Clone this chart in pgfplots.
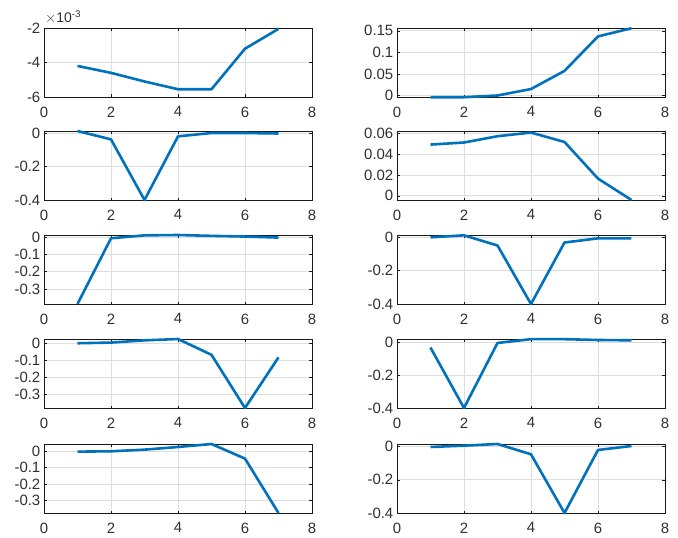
\documentclass[border=0pt]{standalone}
\usepackage{pgfplots}
\pgfplotsset{compat=1.18}
\usepackage{fontspec}
\setmainfont{Liberation Sans}
\definecolor{mblue}{HTML}{0072BD}
\definecolor{mgrid}{HTML}{DEDEDE}
\definecolor{mtext}{HTML}{303030}
\pgfplotsset{
  panel/.style={
    scale only axis, width=268bp, height=69bp,
    anchor=north west,
    xmin=0, xmax=8, xtick={0,2,4,6,8}, xticklabels={0,2,4,6,8},
    grid=major, major grid style={mgrid, line width=0.7bp},
    axis line style={black!90, line width=0.9bp},
    tick style={black!90, line width=0.6bp},
    major tick length=2.5bp,
    tick align=inside,
    ticklabel style={font=\fontsize{15}{16}\selectfont, text=mtext},
    yticklabel style={inner sep=0pt, xshift=-3.5bp},
    xticklabel style={inner sep=0pt, yshift=-9.5bp},
    scaled y ticks=false,
    clip=false,
  },
  blue line/.style={mblue, line width=2.6bp, line join=round},
}
\begin{document}
\begin{tikzpicture}
\path[use as bounding box] (0bp,0bp) rectangle (678bp,-538bp);

% row 1
\begin{axis}[panel, at={(44bp,-28bp)}, ymin=-0.006, ymax=-0.002, ytick={-0.006,-0.004,-0.002},
  yticklabels={-6,-4,-2}]
\addplot[blue line] coordinates {(1,-0.0042) (2,-0.0046) (3,-0.0051) (4,-0.00555) (5,-0.00555) (6,-0.0032) (7,-0.00205)};
\node[anchor=base west, inner sep=1bp, yshift=5bp, font=\fontsize{14}{15}\selectfont, text=mtext]
  at (rel axis cs:0,1) {$\times$10\textsuperscript{-3}};
\end{axis}
\begin{axis}[panel, at={(397bp,-28bp)}, ymin=-0.0035, ymax=0.1565, ytick={0,0.05,0.1,0.15},
  yticklabels={0,0.05,0.1,0.15}]
\addplot[blue line] coordinates {(1,-0.004) (2,-0.004) (3,0.0) (4,0.015) (5,0.057) (6,0.137) (7,0.156)};
\end{axis}

% row 2
\begin{axis}[panel, at={(44bp,-131bp)}, ymin=-0.4, ymax=0.012, ytick={-0.4,-0.2,0},
  yticklabels={-0.4,-0.2,0}]
\addplot[blue line] coordinates {(1,0.012) (2,-0.038) (3,-0.4) (4,-0.02) (5,0.0) (6,0.0) (7,-0.003)};
\end{axis}
\begin{axis}[panel, at={(397bp,-131bp)}, ymin=-0.004, ymax=0.062, ytick={0,0.02,0.04,0.06},
  yticklabels={0,0.02,0.04,0.06}]
\addplot[blue line] coordinates {(1,0.049) (2,0.051) (3,0.057) (4,0.0605) (5,0.0515) (6,0.0165) (7,-0.004)};
\end{axis}

% row 3
\begin{axis}[panel, at={(44bp,-235bp)}, ymin=-0.388, ymax=0.013, ytick={-0.3,-0.2,-0.1,0},
  yticklabels={-0.3,-0.2,-0.1,0}]
\addplot[blue line] coordinates {(1,-0.388) (2,-0.006) (3,0.011) (4,0.013) (5,0.008) (6,0.004) (7,-0.002)};
\end{axis}
\begin{axis}[panel, at={(397bp,-235bp)}, ymin=-0.4, ymax=0.014, ytick={-0.4,-0.2,0},
  yticklabels={-0.4,-0.2,0}]
\addplot[blue line] coordinates {(1,0.0) (2,0.012) (3,-0.049) (4,-0.4) (5,-0.031) (6,-0.006) (7,-0.006)};
\end{axis}

% row 4
\begin{axis}[panel, at={(44bp,-339bp)}, ymin=-0.383, ymax=0.023, ytick={-0.3,-0.2,-0.1,0},
  yticklabels={-0.3,-0.2,-0.1,0}]
\addplot[blue line] coordinates {(1,-0.002) (2,0.002) (3,0.015) (4,0.023) (5,-0.07) (6,-0.383) (7,-0.085)};
\end{axis}
\begin{axis}[panel, at={(397bp,-339bp)}, ymin=-0.4, ymax=0.018, ytick={-0.4,-0.2,0},
  yticklabels={-0.4,-0.2,0}]
\addplot[blue line] coordinates {(1,-0.034) (2,-0.4) (3,-0.006) (4,0.017) (5,0.017) (6,0.012) (7,0.01)};
\end{axis}

% row 5
\begin{axis}[panel, at={(44bp,-444bp)}, ymin=-0.374, ymax=0.042, ytick={-0.3,-0.2,-0.1,0},
  yticklabels={-0.3,-0.2,-0.1,0}]
\addplot[blue line] coordinates {(1,-0.004) (2,-0.002) (3,0.008) (4,0.024) (5,0.042) (6,-0.046) (7,-0.374)};
\end{axis}
\begin{axis}[panel, at={(397bp,-444bp)}, ymin=-0.4, ymax=0.016, ytick={-0.4,-0.2,0},
  yticklabels={-0.4,-0.2,0}]
\addplot[blue line] coordinates {(1,-0.002) (2,0.006) (3,0.016) (4,-0.046) (5,-0.4) (6,-0.02) (7,0.004)};
\end{axis}
\end{tikzpicture}
\end{document}
